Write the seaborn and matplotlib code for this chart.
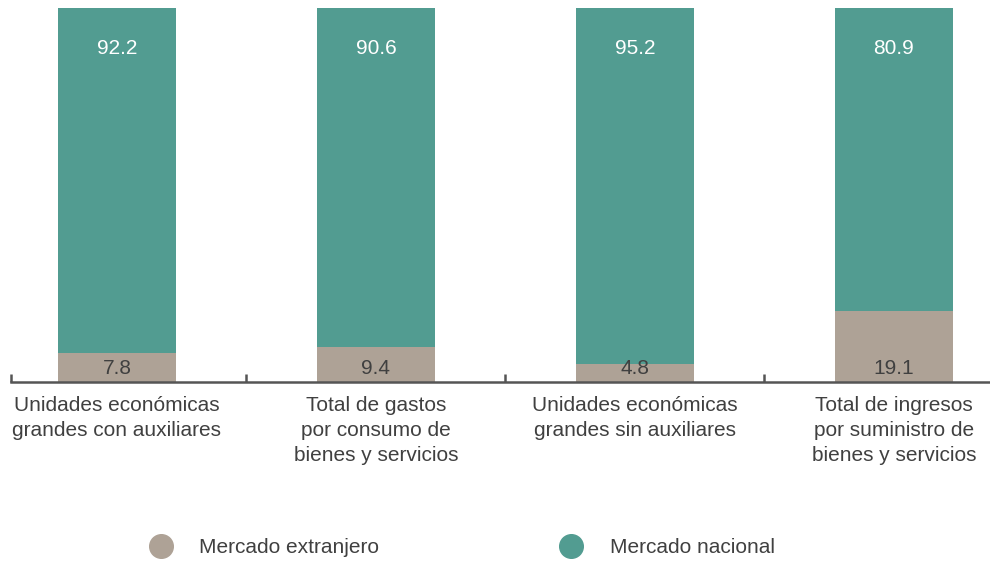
import matplotlib
matplotlib.use("Agg")
import matplotlib.pyplot as plt
from matplotlib.lines import Line2D
from matplotlib.ticker import FixedLocator
import seaborn as sns
import pandas as pd

categories = ["Unidades económicas\ngrandes con auxiliares",
              "Total de gastos\npor consumo de\nbienes y servicios",
              "Unidades económicas\ngrandes sin auxiliares",
              "Total de ingresos\npor suministro de\nbienes y servicios"]
extranjero = [7.8, 9.4, 4.8, 19.1]
nacional = [92.2, 90.6, 95.2, 80.9]

COL_EXT = "#aea296"
COL_NAC = "#529c91"
TXT = "#404040"

df = pd.DataFrame({"cat": categories, "ext": extranjero, "nac": nacional})
df["total"] = df.ext + df.nac

sns.set_theme(style="white")
plt.rcParams["font.family"] = ["Liberation Sans", "DejaVu Sans"]

fig = plt.figure(figsize=(9.9, 5.62), dpi=100)
ax = fig.add_axes([11 / 990, 180 / 562, 979 / 990, 374 / 562])

# stacked: total drawn first in the national colour, foreign share on top of it
sns.barplot(data=df, x="cat", y="total", color=COL_NAC, width=0.456,
            saturation=1, linewidth=0, ax=ax)
sns.barplot(data=df, x="cat", y="ext", color=COL_EXT, width=0.456,
            saturation=1, linewidth=0, ax=ax)

for i, row in df.iterrows():
    ax.text(i, 3.7, f"{row.ext:.1f}", ha="center", va="center",
            fontsize=15, color=TXT)
    ax.text(i, 89.3, f"{row.nac:.1f}", ha="center", va="center",
            fontsize=15, color="white")

ax.set_xlim(-0.409, 3.371)
ax.set_ylim(0, 100)
ax.set_xlabel("")
ax.set_ylabel("")
ax.set_yticks([])
sns.despine(ax=ax, left=True, top=True, right=True)
ax.spines["bottom"].set_color("#555555")
ax.spines["bottom"].set_linewidth(1.8)

ax.xaxis.set_major_locator(FixedLocator([-0.409, 0.5, 1.5, 2.5]))
ax.xaxis.set_minor_locator(FixedLocator([0, 1, 2, 3]))
ax.set_xticklabels([], minor=False)
ax.set_xticklabels(categories, minor=True, fontsize=15, color=TXT,
                   linespacing=1.4)
ax.tick_params(axis="x", which="major", direction="in", length=6,
               width=1.8, color="#555555", bottom=True)
ax.tick_params(axis="x", which="minor", length=0, pad=10, bottom=True)

handles = [Line2D([], [], marker="o", linestyle="none", markersize=17,
                  markerfacecolor=COL_EXT, markeredgecolor=COL_EXT),
           Line2D([], [], marker="o", linestyle="none", markersize=17,
                  markerfacecolor=COL_NAC, markeredgecolor=COL_NAC)]
fig.legend(handles, ["Mercado extranjero", "Mercado nacional"],
           loc="center", bbox_to_anchor=(0.462, 0.025), ncol=2,
           frameon=False, fontsize=15, labelcolor=TXT,
           handletextpad=0.85, columnspacing=8.2)

fig.savefig("out.png", dpi=100)
